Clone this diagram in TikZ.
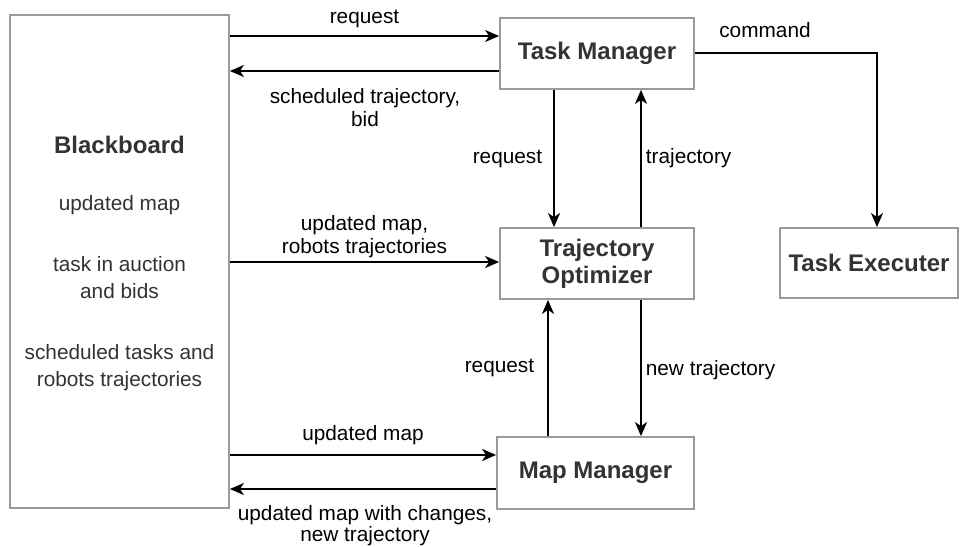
\documentclass[tikz,border=0pt]{standalone}
\usepackage{fontspec}
\setmainfont{Liberation Sans}
\usetikzlibrary{arrows.meta}
\definecolor{boxline}{HTML}{9A9A9A}
\definecolor{boxtext}{HTML}{333333}
\begin{document}
\begin{tikzpicture}[x=1pt,y=-1pt,
  block/.style={draw=boxline,line width=1.8pt,fill=white,inner sep=0pt,
    font=\fontsize{24}{27}\selectfont\bfseries,text=boxtext,align=center},
  bbtext/.style={font=\fontsize{20.8}{27}\selectfont,text=boxtext,align=center,inner sep=0pt},
  lbl/.style={font=\fontsize{20.8}{23}\selectfont,text=black,align=center,inner sep=1pt},
  arr/.style={line width=1.7pt,-{Stealth[length=14pt,width=12pt,inset=4pt]}}]
\useasboundingbox (0,0) rectangle (960,546);

% blocks
\node[block,minimum width=219pt,minimum height=493pt] (bb) at (119.5,261.5) {};
\node[block,minimum width=194pt,minimum height=71pt] (tm) at (597,53.5) {Task Manager};
\node[block,minimum width=194pt,minimum height=71pt] (to) at (597,263.5) {Trajectory\\Optimizer};
\node[block,minimum width=178pt,minimum height=70pt] (te) at (869,263) {Task Executer};

% blackboard contents
\node[bbtext,font=\fontsize{24}{27}\selectfont\bfseries] (bbtitle) at (119.5,145) {Blackboard};
\node[bbtext] (bbmap) at (119.5,205) {updated map};
\node[bbtext] (bbauction) at (119.5,278) {task in auction\\and bids};
\node[bbtext] (bbsched) at (119.5,368) {scheduled tasks and\\robots trajectories};

% blackboard <-> task manager
\draw[arr] (bb.east |- 0,36) -- (tm.west |- 0,36)
  node[lbl,midway,above=6pt] {request};
\draw[arr] (tm.west |- 0,71) -- (bb.east |- 0,71);
\node[lbl] (schedlabel) at (365,108) {scheduled trajectory,\\bid};

% task manager <-> trajectory optimizer
\draw[arr] (tm.south -| 554,0) -- (to.north -| 554,0)
  node[lbl,midway,left=10pt] {request};
\draw[arr] (to.north -| 641,0) -- (tm.south -| 641,0)
  node[lbl,midway,right=3pt] {trajectory};

% blackboard -> trajectory optimizer
\draw[arr] (bb.east |- 0,262) -- (to.west |- 0,262)
  node[lbl,midway,above=2pt] {updated map,\\robots trajectories};

% task manager -> task executer
\coordinate (cmdturn) at (877,53);
\draw[arr] (tm.east |- cmdturn) -- (cmdturn) -- (te.north -| cmdturn);
\node[lbl] (cmdlabel) at (765,30) {command};

% map manager drawn above the trajectory connectors
\node[block,minimum width=197pt,minimum height=72pt] (mm) at (595.5,473) {Map Manager};

% map manager <-> trajectory optimizer
\draw[arr] (mm.north -| 548,0) -- (to.south -| 548,0)
  node[lbl,midway,left=12pt] {request};
\draw[arr] (to.south -| 641,0) -- (mm.north -| 641,0)
  node[lbl,midway,right=3pt,yshift=-2pt] {new trajectory};

% blackboard <-> map manager
\draw[arr] (bb.east |- 0,455) -- (mm.west |- 0,455)
  node[lbl,midway,above=8pt] {updated map};
\draw[arr] (mm.west |- 0,489) -- (bb.east |- 0,489);
\node[lbl,fill=white,font=\fontsize{20.8}{19}\selectfont,inner sep=0.5pt] (mmback) at (365,525.5) {updated map with changes,\\new trajectory};
\end{tikzpicture}
\end{document}
